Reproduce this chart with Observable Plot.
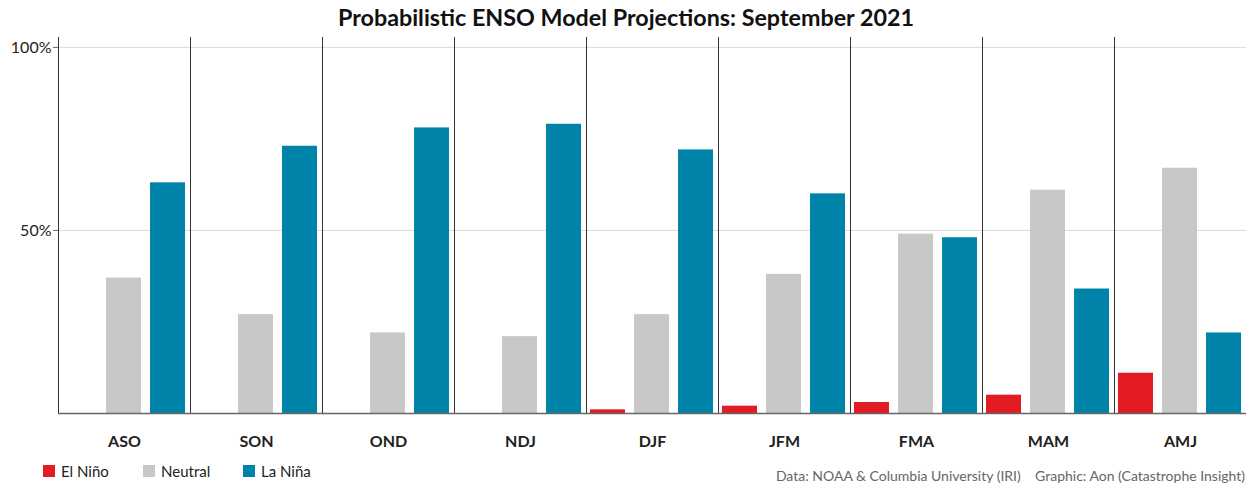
<!DOCTYPE html>
<html><head><meta charset="utf-8">
<script src="https://cdn.jsdelivr.net/npm/d3@7"></script>
<script src="https://cdn.jsdelivr.net/npm/@observablehq/plot@0.6"></script>
<style>
body{margin:0;background:#fff;font-family:Lato,"Open Sans",sans-serif;}
#wrap{position:relative;width:1252px;height:485px;}
#title{position:absolute;left:0;top:3px;width:1252px;text-align:center;font-weight:bold;font-size:23.3px;color:#111;}
#chart{position:absolute;left:0;top:30px;}
#legend{position:absolute;left:43px;top:462px;font-size:15px;color:#222;display:flex;}
#legend span.item{display:flex;align-items:center;margin-right:0;}
#legend i{display:inline-block;width:12px;height:12px;margin-right:6px;}
#caption{position:absolute;right:7px;top:467px;font-size:14px;color:#666;white-space:pre;}
</style></head>
<body><div id="wrap">
<div id="title">Probabilistic ENSO Model Projections: September 2021</div>
<div id="chart"></div>
<div id="legend"></div>
<div id="caption"></div>
</div>
<script>
const seasons = ["ASO","SON","OND","NDJ","DJF","JFM","FMA","MAM","AMJ"];
const series = ["El Niño","Neutral","La Niña"];
const colors = ["#E31B23","#C8C8C7","#0083A9"];
const elNino  = [0, 0, 0, 0, 1, 2, 3, 5, 11];
const neutral = [37, 27, 22, 21, 27, 38, 49, 61, 67];
const laNina  = [63, 73, 78, 79, 72, 60, 48, 34, 22];
const yTicks = [50, 100];
const captionText = "Data: NOAA & Columbia University (IRI)    Graphic: Aon (Catastrophe Insight)";

const vals = [elNino, neutral, laNina];
const data = [];
seasons.forEach((s, i) => series.forEach((k, j) => data.push({season: s, series: k, value: vals[j][i]})));

const plot = Plot.plot({
  width: 1252, height: 425,
  marginTop: 7, marginBottom: 42, marginLeft: 58, marginRight: 6,
  style: {fontFamily: "Lato, 'Open Sans', sans-serif", fontSize: "14px", color: "#222"},
  fx: {domain: seasons, padding: 0, label: null},
  x: {domain: series, paddingInner: 0.2, paddingOuter: 0.1, axis: null},
  y: {domain: [0, 102.7], label: null},
  color: {domain: series, range: colors},
  marks: [
    Plot.gridY(yTicks, {stroke: "#ccc", strokeOpacity: 0.7}),
    Plot.barY(data, {fx: "season", x: "series", y: "value", fill: "series"}),
    Plot.frame({anchor: "left", stroke: "#333", strokeWidth: 1}),
    Plot.ruleY([0], {stroke: "#666", strokeWidth: 1.5}),
    Plot.axisY(yTicks, {tickFormat: d => d + "%", tickSize: 5, tickPadding: 2, fontSize: 16, label: null, stroke: "#666"}),
    Plot.axisFx({anchor: "bottom", tickSize: 0, tickPadding: 22, fontSize: 16, fontWeight: "bold", label: null})
  ]
});
document.getElementById("chart").appendChild(plot);

const leg = document.getElementById("legend");
const gaps = [100, 100, 100];
series.forEach((s, j) => {
  const el = document.createElement("span");
  el.className = "item";
  el.style.width = gaps[j] + "px";
  el.innerHTML = `<i style="background:${colors[j]}"></i>${s}`;
  leg.appendChild(el);
});
document.getElementById("caption").textContent = captionText;
</script>
</body></html>
